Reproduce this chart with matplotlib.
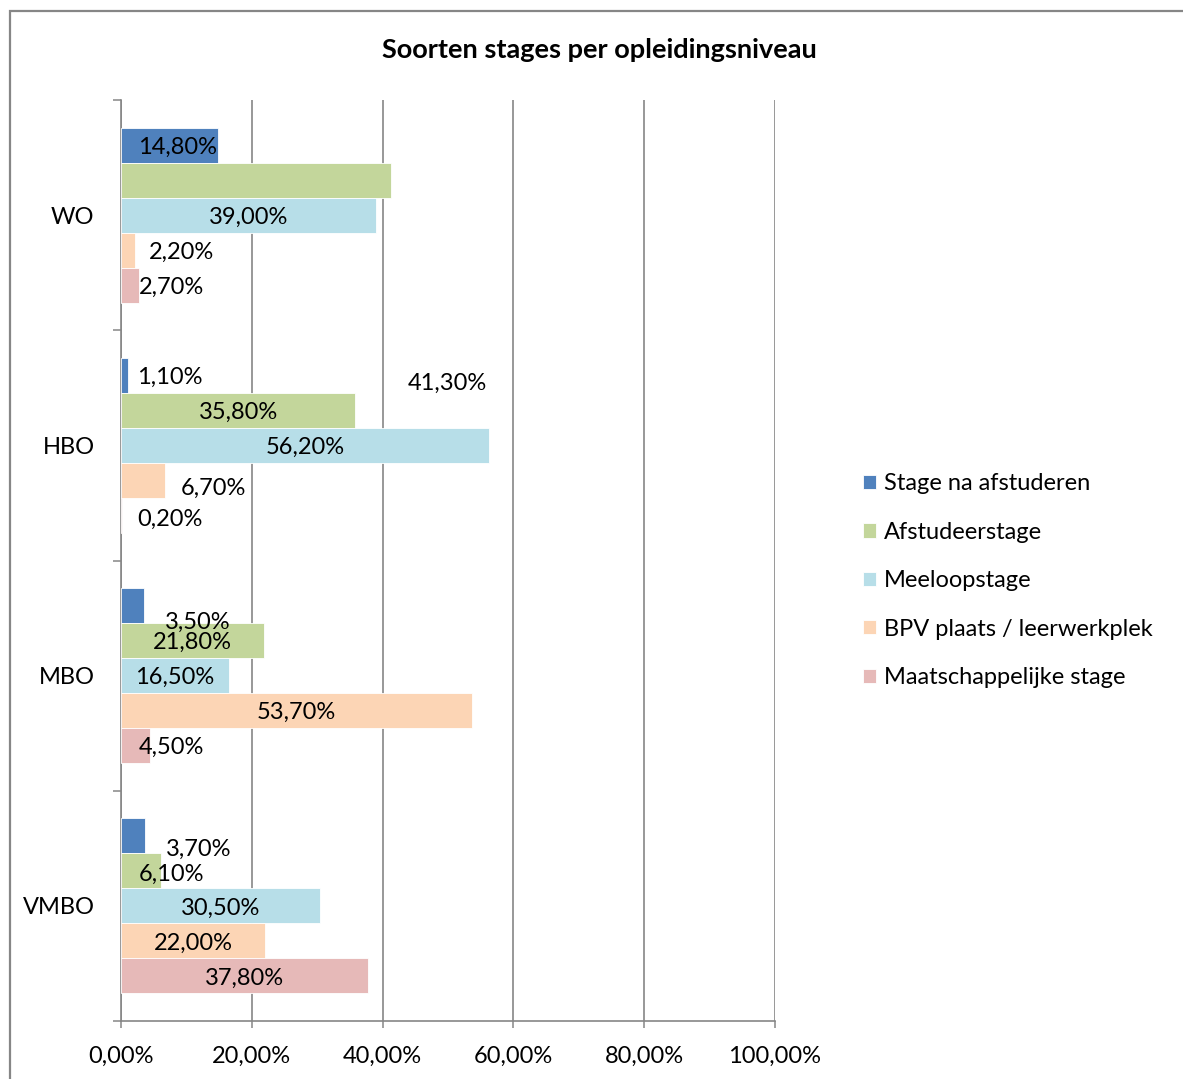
import matplotlib
matplotlib.use("Agg")
import matplotlib.pyplot as plt
from matplotlib.patches import Rectangle
import numpy as np

# ------------------------------------------------------------------ #
# Data
# ------------------------------------------------------------------ #
NIVEAUS = ["VMBO", "MBO", "HBO", "WO"]          # bottom -> top
SERIES = ["Stage na afstuderen", "Afstudeerstage", "Meeloopstage",
          "BPV plaats / leerwerkplek", "Maatschappelijke stage"]
STAGE_NA = [3.7, 3.5, 1.1, 14.8]
AFSTUDEER = [6.1, 21.8, 35.8, 41.3]
MEELOOP = [30.5, 16.5, 56.2, 39.0]
BPV = [22.0, 53.7, 6.7, 2.2]
MAATSCH = [37.8, 4.5, 0.2, 2.7]
X_TICKS = [0, 20, 40, 60, 80, 100]

WAARDEN = [STAGE_NA, AFSTUDEER, MEELOOP, BPV, MAATSCH]
KLEUREN = ["#4F81BD", "#C3D69B", "#B7DEE8", "#FCD5B5", "#E6B9B8"]
GRIJS = "#868686"

# Excel had a few data labels dragged away from the bar centre;
# (niveau, serie) -> (x centre in %, vertical shift in bar units)
LABEL_POS = {
    (3, 0): (8.6, 0.0), (3, 1): (49.9, -0.875), (3, 3): (9.3, 0.0), (3, 4): (7.7, 0.0),
    (2, 0): (7.5, 0.0), (2, 3): (14.2, -0.024), (2, 4): (7.5, -0.01),
    (1, 0): (11.8, -0.063), (1, 4): (7.7, 0.0),
    (0, 0): (11.9, -0.05), (0, 1): (7.7, -0.006),
}

plt.rcParams["font.family"] = ["Lato", "DejaVu Sans"]

W, H = 1183, 1079
fig = plt.figure(figsize=(W / 100, H / 100), dpi=100)

# chart area border (Excel style), runs off the right/bottom edge
fig.patches.append(Rectangle((9.5 / W, -0.01), 1.2, (H - 10.5) / H + 0.01,
                             transform=fig.transFigure, fill=False,
                             edgecolor=GRIJS, linewidth=1.6))

ax = fig.add_axes([121 / W, (H - 1021) / H, (775 - 121) / W, (1021 - 100) / H])

hoogte = 0.152
y_basis = np.arange(len(NIVEAUS))
for i, (waarden, kleur) in enumerate(zip(WAARDEN, KLEUREN)):
    y = y_basis + (2 - i) * hoogte
    ax.barh(y, waarden, height=hoogte, color=kleur, edgecolor="white",
            linewidth=0.6, zorder=3, label=SERIES[i])
    for j, v in enumerate(waarden):
        xc, dy = LABEL_POS.get((j, i), (v / 2, 0.0))
        ax.text(xc, y[j] + dy - 0.009, f"{v:.2f}%".replace(".", ","), ha="center",
                va="center", fontsize=17, color="black", zorder=4)

ax.set_xlim(0, 100)
ax.set_ylim(-0.5, 3.5)
ax.set_xticks(X_TICKS)
ax.set_xticklabels([f"{t:.2f}%".replace(".", ",") for t in X_TICKS], fontsize=17)
ax.tick_params(axis="x", direction="out", length=5, width=1.1, color=GRIJS, pad=13)

ax.set_yticks(np.arange(-0.5, 4.0, 1.0))
ax.set_yticklabels([])
ax.set_yticks(y_basis, minor=True)
ax.set_yticklabels(NIVEAUS, minor=True, fontsize=17)
ax.tick_params(axis="y", which="major", direction="out", length=6, width=1.1, color=GRIJS)
ax.tick_params(axis="y", which="minor", length=0, pad=19)

ax.grid(axis="x", color=GRIJS, linewidth=1.2, zorder=0)
ax.set_axisbelow(True)
for kant in ("top", "right"):
    ax.spines[kant].set_visible(False)
for kant in ("left", "bottom"):
    ax.spines[kant].set_color(GRIJS)
    ax.spines[kant].set_linewidth(1.2)

fig.text(599 / W, 1 - 50 / H, "Soorten stages per opleidingsniveau",
         ha="center", va="center", fontsize=19.5, fontweight="bold")

fig.legend(loc="upper left", bbox_to_anchor=(854 / W, 1 - 464 / H), frameon=False,
           fontsize=17, handlelength=0.55, handleheight=0.55, handletextpad=0.32,
           labelspacing=1.16, borderaxespad=0)

fig.savefig("out.png", dpi=100)
